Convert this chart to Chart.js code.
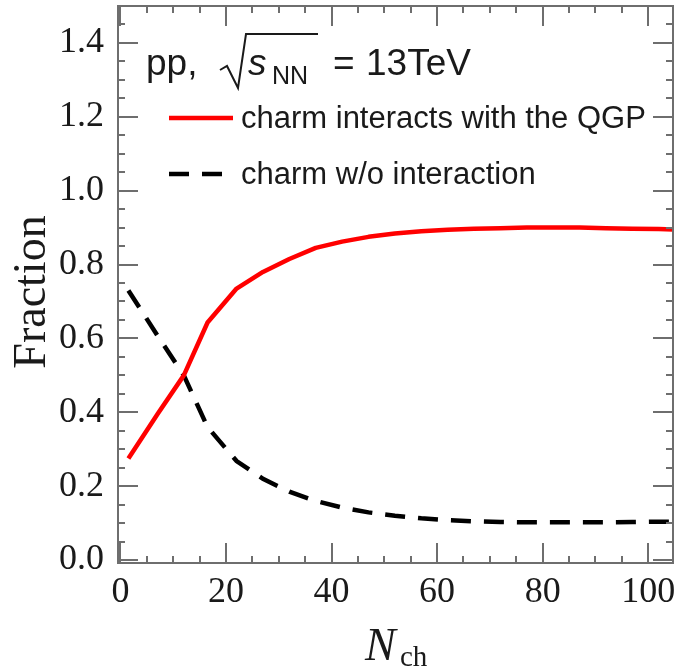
<!DOCTYPE html>
<html>
<head>
<meta charset="utf-8">
<script src="https://cdn.jsdelivr.net/npm/chart.js@4/dist/chart.umd.min.js"></script>
<style>
  html, body { margin: 0; padding: 0; background: #fff; }
  canvas { display: block; }
</style>
</head>
<body>
<canvas id="c" width="679" height="671"></canvas>
<script>
// Charged-particle multiplicity bins
const nch = [1.5, 7, 12, 16.5, 22, 27, 32, 37, 42, 47, 52, 57, 62, 67, 72, 77, 82, 87, 92, 97, 102, 105];
// Fraction of charm quarks that interact with the QGP
const withQGP = [0.275, 0.395, 0.50, 0.643, 0.735, 0.78, 0.815, 0.845, 0.862, 0.875, 0.884, 0.89, 0.894, 0.897, 0.898, 0.90, 0.90, 0.90, 0.898, 0.897, 0.896, 0.895];
// Fraction of charm quarks without interaction
const noInteraction = [0.73, 0.608, 0.50, 0.36, 0.268, 0.22, 0.185, 0.16, 0.142, 0.129, 0.12, 0.113, 0.108, 0.105, 0.103, 0.102, 0.102, 0.102, 0.102, 0.103, 0.104, 0.104];

const xTicks = [0, 20, 40, 60, 80, 100];
const yTicks = [0.0, 0.2, 0.4, 0.6, 0.8, 1.0, 1.2, 1.4];
const seriesLabels = ['charm interacts with the QGP', 'charm w/o interaction'];

const AXIS_COLOR = '#6e6e6e';
const TEXT_COLOR = '#1a1a1a';

// Frame with inward major/minor ticks on all four sides
const framePlugin = {
  id: 'frame',
  afterDatasetsDraw(chart) {
    const { ctx, chartArea: a, scales: { x, y } } = chart;
    ctx.save();
    ctx.strokeStyle = AXIS_COLOR;
    ctx.lineWidth = 2;
    ctx.beginPath();
    // x ticks (minor every 5, major every 20)
    for (let v = 0; v <= x.max + 1e-9; v += 5) {
      if (v < x.min) continue;
      const px = Math.round(x.getPixelForValue(v));
      const len = (v % 20 === 0) ? 20 : 7;
      ctx.moveTo(px, a.bottom); ctx.lineTo(px, a.bottom - len);
      ctx.moveTo(px, a.top); ctx.lineTo(px, a.top + len);
    }
    // y ticks (minor every 0.05, major every 0.2)
    for (let i = 0; i * 0.05 <= y.max + 1e-9; i++) {
      const v = i * 0.05;
      const py = Math.round(y.getPixelForValue(v));
      const len = (i % 4 === 0) ? 20 : 7;
      ctx.moveTo(a.left, py); ctx.lineTo(a.left + len, py);
      ctx.moveTo(a.right, py); ctx.lineTo(a.right - len, py);
    }
    ctx.stroke();
    ctx.strokeRect(a.left, a.top, a.right - a.left, a.bottom - a.top);
    ctx.restore();
  }
};

// Annotation, legend and axis titles
const textPlugin = {
  id: 'texts',
  afterDraw(chart) {
    const { ctx } = chart;
    const ds = chart.data.datasets;
    ctx.save();
    ctx.fillStyle = TEXT_COLOR;
    ctx.textBaseline = 'alphabetic';
    ctx.textAlign = 'left';

    // pp, sqrt(s_NN) = 13TeV
    ctx.font = '37px "Liberation Sans", Arial, sans-serif';
    ctx.fillText('pp,', 146, 75);
    ctx.strokeStyle = TEXT_COLOR;
    ctx.lineWidth = 2;
    ctx.beginPath();
    ctx.moveTo(220, 70); ctx.lineTo(227, 66); ctx.lineTo(238, 88);
    ctx.lineTo(246, 34); ctx.lineTo(318, 34);
    ctx.stroke();
    ctx.font = 'italic 37px "Liberation Sans", Arial, sans-serif';
    ctx.fillText('s', 248, 75);
    ctx.font = '25px "Liberation Sans", Arial, sans-serif';
    ctx.fillText('NN', 272, 84);
    ctx.font = '37px "Liberation Sans", Arial, sans-serif';
    ctx.fillText('=', 333, 75);
    ctx.fillText('13TeV', 366, 75);

    // legend entries
    const rows = [118, 174];
    const ends = [233, 224];
    ds.forEach((d, i) => {
      ctx.save();
      ctx.strokeStyle = d.borderColor;
      ctx.lineWidth = d.borderWidth;
      ctx.setLineDash(d.borderDash || []);
      ctx.beginPath();
      ctx.moveTo(169, rows[i]); ctx.lineTo(ends[i], rows[i]);
      ctx.stroke();
      ctx.restore();
      ctx.font = '31px "Liberation Sans", Arial, sans-serif';
      ctx.textBaseline = 'middle';
      ctx.fillText(d.label, 241, rows[i] + 1);
    });

    // x title: N_ch
    ctx.textBaseline = 'alphabetic';
    ctx.font = 'italic 46px "Liberation Serif", "Times New Roman", serif';
    ctx.fillText('N', 365, 660);
    ctx.font = '29px "Liberation Serif", "Times New Roman", serif';
    ctx.fillText('ch', 400, 666);

    // y title
    ctx.save();
    ctx.translate(45, 292);
    ctx.rotate(-Math.PI / 2);
    ctx.textAlign = 'center';
    ctx.font = '46px "Liberation Serif", "Times New Roman", serif';
    ctx.fillText('Fraction', 0, 0);
    ctx.restore();

    ctx.restore();
  }
};

const toPoints = (xs, ys) => xs.map((v, i) => ({ x: v, y: ys[i] }));

new Chart(document.getElementById('c'), {
  type: 'line',
  data: {
    datasets: [
      {
        label: seriesLabels[0],
        data: toPoints(nch, withQGP),
        borderColor: '#ff0000',
        borderWidth: 4.5,
        pointRadius: 0,
        tension: 0,
        borderJoinStyle: 'round'
      },
      {
        label: seriesLabels[1],
        data: toPoints(nch, noInteraction),
        borderColor: '#000000',
        borderWidth: 4.5,
        borderDash: [20, 13],
        pointRadius: 0,
        tension: 0
      }
    ]
  },
  options: {
    responsive: false,
    animation: false,
    devicePixelRatio: 1,
    layout: { padding: { left: 0, right: 6, top: 6, bottom: 0 } },
    plugins: { legend: { display: false }, tooltip: { enabled: false } },
    scales: {
      x: {
        type: 'linear',
        min: -0.47,
        max: 104.7,
        grid: { display: false },
        border: { display: false },
        afterBuildTicks: s => { s.ticks = xTicks.map(v => ({ value: v })); },
        afterFit: s => { s.height = 108; s.paddingLeft = 0; s.paddingRight = 0; },
        ticks: {
          padding: 0,
          maxRotation: 0,
          color: TEXT_COLOR,
          font: { family: '"Liberation Serif", "Times New Roman", serif', size: 36 },
          callback: v => String(v)
        }
      },
      y: {
        type: 'linear',
        min: -0.008,
        max: 1.5,
        grid: { display: false },
        border: { display: false },
        afterBuildTicks: s => { s.ticks = yTicks.map(v => ({ value: v })); },
        afterFit: s => { s.width = 118; s.paddingTop = 0; s.paddingBottom = 0; },
        ticks: {
          padding: 6,
          color: TEXT_COLOR,
          font: { family: '"Liberation Serif", "Times New Roman", serif', size: 36 },
          callback: v => Number(v).toFixed(1)
        }
      }
    }
  },
  plugins: [framePlugin, textPlugin]
});
</script>
</body>
</html>
